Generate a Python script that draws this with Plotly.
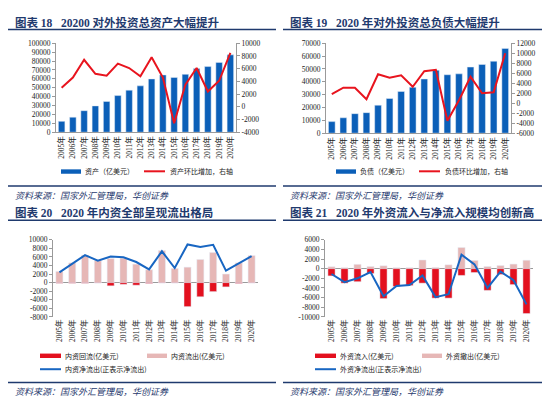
import plotly.graph_objects as go

years = [str(y) for y in range(2005, 2021)]
year_labels = [f"{y}年" for y in years]

# Panel 1: total foreign assets
assets = [12200, 16900, 24200, 29600, 34600, 41200, 47300, 52100, 59900, 64400, 61600, 65100, 71500, 73800, 78500, 87000]
assets_chg = [3000, 4600, 7400, 5200, 4900, 6800, 6100, 4800, 7800, 4600, -2600, 3500, 6100, 2400, 4100, 8500]

# Panel 2: total foreign liabilities
liab = [9000, 12000, 15200, 16000, 21800, 27000, 32500, 35700, 42200, 49000, 45500, 46200, 51500, 53500, 56000, 66000]
liab_chg = [1800, 3100, 3100, 800, 5800, 5100, 5600, 3300, 6400, 6700, -3500, 600, 5300, 2000, 2200, 10000]

# Panel 3: domestic capital
dom_return = [-150, -150, -150, -100, -750, -400, -600, -200, -100, -100, -5600, -3300, -2100, -1000, -200, -100]
dom_out = [2600, 4600, 6400, 5100, 5600, 5700, 4300, 3000, 7500, 3300, 3600, 5400, 7000, 2000, 4600, 6300]
dom_net = [2400, 4500, 6400, 5100, 6100, 5900, 4800, 3100, 7300, 3400, 8900, 8300, 8800, 2800, 4600, 6200]

# Panel 4: foreign capital
for_in = [-1500, -3000, -2700, -1000, -6200, -3700, -3500, -3000, -6100, -6100, -1400, -800, -4500, -1200, -3300, -9300]
for_out = [400, 200, 900, 450, 600, 200, 200, 1800, 250, 800, 4400, 1700, 450, 650, 950, 1750]
for_net = [-1100, -2800, -2000, -700, -5700, -3600, -3400, -1400, -5900, -5300, 2900, 900, -4000, -600, -2400, -7400]

# Axis tick values
ticks_p1_left = list(range(0, 100001, 10000))
ticks_p1_right = list(range(-4000, 10001, 2000))
ticks_p2_left = list(range(0, 70001, 10000))
ticks_p2_right = list(range(-6000, 12001, 2000))
ticks_p3 = list(range(-8000, 10001, 2000))
ticks_p4 = list(range(-10000, 6001, 2000))

titles = ["图表 18   20200 对外投资总资产大幅提升",
          "图表 19   2020 年对外投资总负债大幅提升",
          "图表 20   2020 年内资全部呈现流出格局",
          "图表 21   2020 年外资流入与净流入规模均创新高"]
source = "资料来源：国家外汇管理局，华创证券"

W, H = 550, 397
NAVY = "#1F3A6E"
BLUE_BAR = "#0B5FB8"
RED = "#E8141E"
RED_BAR = "#E3101E"
PINK = "#E6B7B6"
BLUE_LINE = "#1866C2"
SERIF = "Liberation Serif, Noto Sans CJK SC"
CJK = "Noto Sans CJK SC"

def px(x):
    return x / W

def py(y):
    return 1 - y / H

fig = go.Figure()

# Panel 1
fig.add_trace(go.Bar(x=years, y=assets, marker_color=BLUE_BAR, width=0.58, xaxis="x", yaxis="y"))
fig.add_trace(go.Scatter(x=years, y=assets_chg, mode="lines", line=dict(color=RED, width=2), xaxis="x", yaxis="y2"))
# Panel 2
fig.add_trace(go.Bar(x=years, y=liab, marker_color=BLUE_BAR, width=0.58, xaxis="x2", yaxis="y3"))
fig.add_trace(go.Scatter(x=years, y=liab_chg, mode="lines", line=dict(color=RED, width=2), xaxis="x2", yaxis="y4"))
# Panel 3
fig.add_trace(go.Bar(x=years, y=dom_out, marker_color=PINK, width=0.55, xaxis="x3", yaxis="y5"))
fig.add_trace(go.Bar(x=years, y=dom_return, marker_color=RED_BAR, width=0.55, xaxis="x3", yaxis="y5"))
fig.add_trace(go.Scatter(x=years, y=dom_net, mode="lines", line=dict(color=BLUE_LINE, width=2), xaxis="x3", yaxis="y5"))
# Panel 4
fig.add_trace(go.Bar(x=years, y=for_out, marker_color=PINK, width=0.55, xaxis="x4", yaxis="y6"))
fig.add_trace(go.Bar(x=years, y=for_in, marker_color=RED_BAR, width=0.55, xaxis="x4", yaxis="y6"))
fig.add_trace(go.Scatter(x=years, y=for_net, mode="lines", line=dict(color=BLUE_LINE, width=2), xaxis="x4", yaxis="y6"))

ytickfont = dict(family=SERIF, size=7.5, color="#222")
xtickfont = dict(family=SERIF, size=7.5, color="#222")
xcommon = dict(type="category", tickmode="array", tickvals=years, ticktext=year_labels,
               tickangle=-90, tickfont=xtickfont, showgrid=False, ticks="", fixedrange=True)

def yax(tv, **kw):
    d = dict(showgrid=False, showline=True, linecolor="#9a9a9a", linewidth=1, ticks="outside",
             ticklen=3, tickcolor="#9a9a9a", tickfont=ytickfont, zeroline=False,
             tickmode="array", tickvals=tv, ticktext=[str(v) for v in tv],
             range=[tv[0], tv[-1]])
    d.update(kw)
    return d

layout = dict(width=W, height=H, margin=dict(l=0, r=0, t=0, b=0), showlegend=False,
              plot_bgcolor="white", paper_bgcolor="white", barmode="overlay",
              xaxis=dict(domain=[px(48), px(228)], anchor="y", showline=True, linecolor="#9a9a9a", **xcommon),
              yaxis=yax(ticks_p1_left, domain=[py(123), py(32)], anchor="x"),
              yaxis2=yax(ticks_p1_right, overlaying="y", side="right", anchor="x"),
              xaxis2=dict(domain=[px(318), px(503)], anchor="y3", showline=True, linecolor="#9a9a9a", **xcommon),
              yaxis3=yax(ticks_p2_left, domain=[py(124), py(32)], anchor="x2"),
              yaxis4=yax(ticks_p2_right, overlaying="y3", side="right", anchor="x2"),
              xaxis3=dict(domain=[px(45), px(250)], anchor="y5", showline=False, **xcommon),
              yaxis5=yax(ticks_p3, domain=[py(312), py(233)], anchor="x3",
                         zeroline=True, zerolinecolor="#9a9a9a", zerolinewidth=1),
              xaxis4=dict(domain=[px(317), px(525)], anchor="y6", showline=False, **xcommon),
              yaxis6=yax(ticks_p4, domain=[py(312), py(233)], anchor="x4",
                         zeroline=True, zerolinecolor="#9a9a9a", zerolinewidth=1),
              )
fig.update_layout(**layout)

shapes = []
annotations = []

def hline(x0, x1, y, color, width):
    shapes.append(dict(type="line", xref="paper", yref="paper", x0=px(x0), x1=px(x1), y0=py(y), y1=py(y),
                       line=dict(color=color, width=width)))

def rect(x0, x1, y0, y1, color):
    shapes.append(dict(type="rect", xref="paper", yref="paper", x0=px(x0), x1=px(x1), y0=py(y1), y1=py(y0),
                       fillcolor=color, line=dict(width=0)))

def text(x, y, s, size, color="#222", bold=False, italic=False, family=CJK):
    if bold:
        s = f"<b>{s}</b>"
    if italic:
        s = f"<i>{s}</i>"
    annotations.append(dict(x=px(x), y=py(y), xref="paper", yref="paper", text=s, showarrow=False,
                            xanchor="left", yanchor="middle", font=dict(family=family, size=size, color=color)))

# Titles and rules
for ox, oy, t in [(0, 0, titles[0]), (275, 0, titles[1]), (0, 195, titles[2]), (275, 195, titles[3])]:
    text(ox + 5, oy + 10.5, t, 11.5, NAVY, bold=True, family="Liberation Serif, Noto Sans CJK SC")
    hline(ox + 0, ox + 268, oy + 18, NAVY, 1.5)

# bottom rules and sources
for ox, oy in [(0, 178), (275, 178), (0, 379), (275, 379)]:
    hline(ox + 0, ox + 268, oy, NAVY, 1.5)
    text(ox + 5, oy + 9.5, source, 9, NAVY, italic=True)

# Legends panel 1/2
rect(53, 73, 161, 165.5, BLUE_BAR)
text(75, 163, "资产（亿美元）", 7)
hline(136, 157, 163, RED, 2)
text(160, 163, "资产环比增加，右轴", 7)
rect(275 + 53, 275 + 73, 161, 165.5, BLUE_BAR)
text(275 + 75, 163, "负债（亿美元）", 7)
hline(275 + 136, 275 + 157, 163, RED, 2)
text(275 + 160, 163, "负债环比增加，右轴", 7)

# Legends panel 3/4
for ox, a, b, c in [(0, "内资回流(亿美元)", "内资流出(亿美元)", "内资净流出(正表示净流出)"),
                    (275, "外资流入(亿美元)", "外资撤出(亿美元)", "外资净流出(正表示净流出)")]:
    rect(ox + 32, ox + 53, 349.5, 354, RED_BAR)
    text(ox + 55, 352, a, 7)
    rect(ox + 139, ox + 159, 349.5, 354, PINK)
    text(ox + 161, 352, b, 7)
    hline(ox + 32, ox + 53, 365.5, BLUE_LINE, 2)
    text(ox + 55, 365.5, c, 7)

fig.update_layout(shapes=shapes, annotations=annotations)
fig.write_html("out.html")
